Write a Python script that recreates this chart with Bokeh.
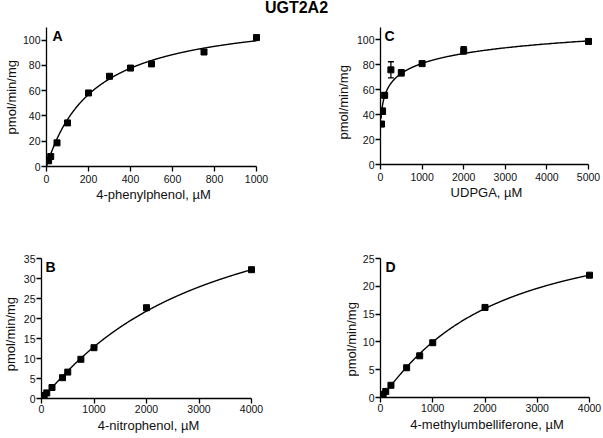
import numpy as np
from bokeh.plotting import figure
from bokeh.models import Range1d, FixedTicker, Label, Whisker, TeeHead, ColumnDataSource
from bokeh.layouts import column, row
from bokeh.embed import file_html
from bokeh.resources import INLINE

TITLE = "UGT2A2"
YLABEL = "pmol/min/mg"

# Panel A: 4-phenylphenol
a_x = [10, 20, 50, 100, 200, 300, 400, 500, 750, 1000]
a_y = [4.5, 7.9, 18.7, 34.5, 58.2, 71.4, 77.9, 81.2, 90.6, 102.0]
a_fit = dict(vmax=122.3, k=229.0, n=1.0)
a_xticks = [0, 200, 400, 600, 800, 1000]
a_yticks = [0, 20, 40, 60, 80, 100]

# Panel C: UDPGA (mean +/- error)
c_x = [25, 50, 100, 250, 500, 1000, 2000, 5000]
c_y = [32.5, 42.8, 55.6, 76.0, 73.6, 81.0, 91.6, 98.8]
c_err = [2.0, 2.5, 2.0, 6.5, 2.5, 1.5, 3.0, 2.0]
c_fit = dict(vmax=155.0, k=730.0, n=0.30)
c_xticks = [0, 1000, 2000, 3000, 4000, 5000]
c_yticks = [0, 20, 40, 60, 80, 100]

# Panel B: 4-nitrophenol
b_x = [10, 25, 50, 100, 200, 400, 500, 750, 1000, 2000, 4000]
b_y = [0.15, 0.35, 0.75, 1.4, 2.75, 5.2, 6.6, 9.8, 12.7, 22.7, 32.2]
b_fit = dict(vmax=55.0, k=2924.0, n=1.10)
b_xticks = [0, 1000, 2000, 3000, 4000]
b_yticks = [0, 5, 10, 15, 20, 25, 30, 35]

# Panel D: 4-methylumbelliferone
d_x = [10, 25, 50, 100, 200, 500, 750, 1000, 2000, 4000]
d_y = [0.1, 0.25, 0.55, 1.1, 2.2, 5.35, 7.5, 9.85, 16.2, 22.0]
d_fit = dict(vmax=32.0, k=2000.0, n=1.14)
d_xticks = [0, 1000, 2000, 3000, 4000]
d_yticks = [0, 5, 10, 15, 20, 25]

FONT = "Liberation Sans"
YLABEL_LEN = 74.4  # px length of the y label at 13px


def hill(s, vmax, k, n):
    s = np.asarray(s, dtype=float)
    return vmax * s ** n / (k ** n + s ** n)


def blank(w, h):
    f = figure(width=w, height=h, x_range=Range1d(0, w), y_range=Range1d(0, h),
               min_border=0, x_axis_type=None, y_axis_type=None,
               output_backend="svg", toolbar_location=None, tools="")
    f.xgrid.visible = False
    f.ygrid.visible = False
    f.outline_line_color = None
    f.background_fill_color = None
    f.border_fill_color = None
    return f


def ylabel_fig(w, h, x_base, y_mid, shift):
    f = blank(w, h)
    f.add_layout(Label(x=x_base, y=y_mid - YLABEL_LEN / 2 - shift, angle=np.pi / 2,
                       text=YLABEL, text_align="left", text_baseline="alphabetic",
                       text_font=FONT, text_font_size="13px", text_color="#111111"))
    return f


def panel(xs, ys, fit, xticks, yticks, xlabel, letter, fw_core, fh, bl, br, bt, bb,
          curve_start, xlab_standoff, xtick_standoff, letter_dx, err=None):
    pad = 4
    fw = fw_core + pad
    xmax = xticks[-1]
    ymax = yticks[-1] if yticks[-1] >= max(ys) * 1.05 else 110
    x_end = xmax * fw / fw_core
    p = figure(frame_width=fw, frame_height=fh,
               x_range=Range1d(0, x_end), y_range=Range1d(0, ymax),
               min_border_left=bl, min_border_right=br,
               min_border_top=bt, min_border_bottom=bb,
               output_backend="svg", toolbar_location=None, tools="")
    p.xgrid.visible = False
    p.ygrid.visible = False
    p.outline_line_color = None
    p.background_fill_color = "white"
    p.border_fill_color = "white"
    for ax in (p.xaxis[0], p.yaxis[0]):
        ax.axis_line_width = 1.3
        ax.axis_line_color = "black"
        ax.major_tick_line_width = 1.3
        ax.major_tick_line_color = "black"
        ax.major_tick_in = 0
        ax.major_tick_out = 5
        ax.minor_tick_line_color = None
        ax.major_label_text_font = FONT
        ax.major_label_text_font_size = "10.5px"
        ax.major_label_text_color = "#111111"
        ax.axis_label_text_font = FONT
        ax.axis_label_text_font_size = "13px"
        ax.axis_label_text_font_style = "normal"
        ax.axis_label_text_color = "#111111"
    p.xaxis.ticker = FixedTicker(ticks=xticks)
    p.yaxis.ticker = FixedTicker(ticks=yticks)
    p.xaxis.bounds = (0, xmax)
    p.xaxis.axis_label = xlabel
    p.yaxis.major_label_standoff = 1
    p.xaxis.major_label_standoff = xtick_standoff
    p.xaxis.axis_label_standoff = xlab_standoff

    if curve_start > 0:
        cx = np.geomspace(curve_start, xmax, 500)
    else:
        cx = np.linspace(0, xmax, 500)
    p.line(cx, hill(cx, **fit), line_color="black", line_width=1.4)

    if err is not None:
        src = ColumnDataSource(dict(x=xs, upper=[y + e for y, e in zip(ys, err)],
                                    lower=[y - e for y, e in zip(ys, err)]))
        w = Whisker(source=src, base="x", upper="upper", lower="lower",
                    line_color="black", line_width=1.3,
                    upper_head=TeeHead(size=6, line_width=1.3, line_color="black"),
                    lower_head=TeeHead(size=6, line_width=1.3, line_color="black"))
        p.add_layout(w)

    p.scatter(xs, ys, marker="square", size=6, fill_color="black", line_color="black")

    p.add_layout(Label(x=0, y=ymax, x_offset=letter_dx, y_offset=0, text=letter,
                       text_baseline="top", text_align="left", text_font=FONT,
                       text_font_style="bold", text_font_size="14px", text_color="black"))
    return p


# panel(..., fw_core, fh, bl, br, bt, bb, curve_start, xlab_sd, xtick_sd, letter_dx)
pa = panel(a_x, a_y, a_fit, a_xticks, a_yticks, "4-phenylphenol, µM", "A",
           210, 139, 25, 42, 0, 49, 0, 1, 3, 6)
pc = panel(c_x, c_y, c_fit, c_xticks, c_yticks, "UDPGA, µM", "C",
           208, 137, 28, 13, 0, 51, 15, 1, 3, 4, err=c_err)
pb = panel(b_x, b_y, b_fit, b_xticks, b_yticks, "4-nitrophenol, µM", "B",
           210, 140, 22, 45, 42, 41, 0, 2, 1, 4)
pd_ = panel(d_x, d_y, d_fit, d_xticks, d_yticks, "4-methylumbelliferone, µM", "D",
            209, 139, 20, 11, 43, 41, 0, 2, 1, 5)

yla = ylabel_fig(19, 188, 10.5, 188 - 69.5, 40)
ylc = ylabel_fig(50, 188, 41.0, 188 - 68.5, 48)
ylb = ylabel_fig(19, 215, 9.5, 215 - 112, 36)
yld = ylabel_fig(59, 215, 50.5, 215 - 112.5, 44)

t = blank(603, 27)
t.add_layout(Label(x=296, y=27, y_offset=2, text=TITLE, text_align="center",
                   text_baseline="top", text_font=FONT, text_font_style="bold",
                   text_font_size="16px", text_color="black"))

layout = column(t,
                row(yla, pa, ylc, pc, spacing=0),
                row(ylb, pb, yld, pd_, spacing=0),
                spacing=0)
open("out.html", "w").write(file_html(layout, INLINE))
